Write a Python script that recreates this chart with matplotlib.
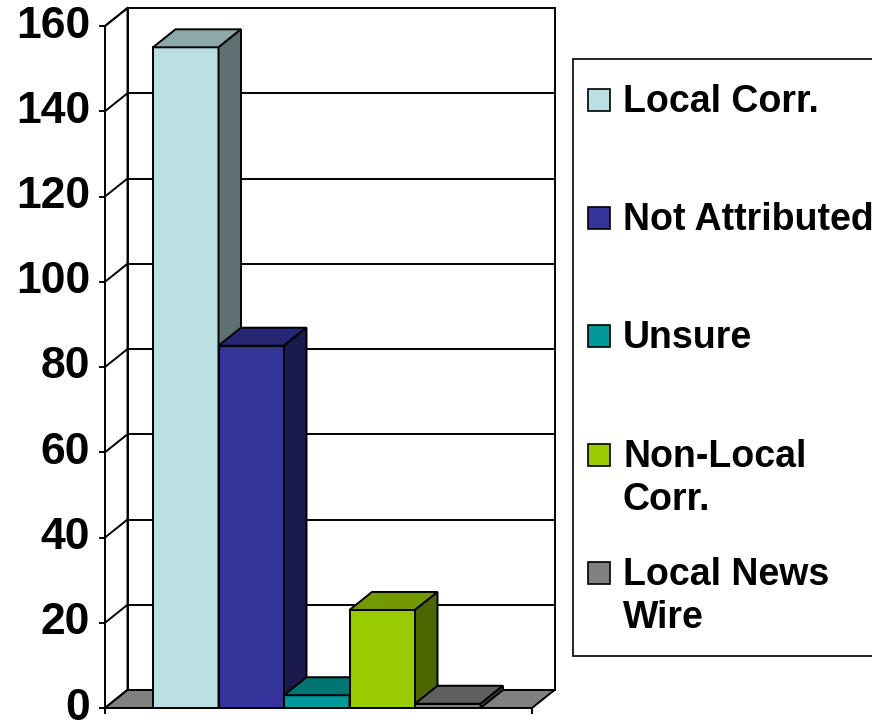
import matplotlib
matplotlib.use("Agg")
import matplotlib.pyplot as plt
from matplotlib.patches import Polygon, Rectangle
from matplotlib.colors import to_rgb

# --- data -------------------------------------------------------------
categories = ["Local Corr.", "Not Attributed", "Unsure", "Non-Local\nCorr.", "Local News\nWire"]
values = [155, 85, 3, 23, 1]
colors = ["#BBE0E3", "#333399", "#009999", "#99CC00", "#808080"]
y_ticks = [0, 20, 40, 60, 80, 100, 120, 140, 160]

# --- layout (pixels of the 872x725 canvas) ----------------------------
W, H = 872, 725
FONT = ["Liberation Sans", "DejaVu Sans"]

fig = plt.figure(figsize=(W / 100, H / 100), dpi=100)
ax = fig.add_axes([0, 0, 1, 1])
ax.set_axis_off()

# one x unit = one column width; y in data units
col_px = 65.5
first_col_px = 153.0
y0_px = 708.0
unit_px = (708.0 - 26.0) / 160.0

ax.set_xlim((0 - first_col_px) / col_px, (W - first_col_px) / col_px)
ax.set_ylim((y0_px - H) / unit_px, y0_px / unit_px)

x_left = (105 - first_col_px) / col_px
x_right = (532 - first_col_px) / col_px
dx = 22.5 / col_px          # depth offset in x
dy = 18.0 / unit_px         # depth offset in y
ymax = y_ticks[-1]
lw = 1.4


def shade(c, f):
    r, g, b = to_rgb(c)
    return (r * f, g * f, b * f)


def poly(pts, fc, z, ec="black", lw_=lw):
    ax.add_patch(Polygon(pts, closed=True, facecolor=fc, edgecolor=ec,
                         linewidth=lw_, joinstyle="miter", zorder=z))


# back wall and left wall
poly([(x_left + dx, dy), (x_right + dx, dy), (x_right + dx, ymax + dy),
      (x_left + dx, ymax + dy)], "white", 1)
poly([(x_left, 0), (x_left + dx, dy), (x_left + dx, ymax + dy), (x_left, ymax)],
     "white", 1)

for t in y_ticks[1:-1]:
    ax.plot([x_left + dx, x_right + dx], [t + dy, t + dy], color="black", lw=lw, zorder=2)
for t in y_ticks:
    ax.plot([x_left, x_left + dx], [t, t + dy], color="black", lw=lw, zorder=2)
    ax.plot([x_left - 5 / col_px, x_left], [t, t], color="black", lw=lw, zorder=2)
    ax.text(x_left - 15 / col_px, t, str(t), ha="right", va="center",
            fontsize=32, fontweight="bold", family=FONT, zorder=5)

# floor
poly([(x_left, 0), (x_right, 0), (x_right + dx, dy), (x_left + dx, dy)], "#808080", 3)
for xx in (x_left, x_right):
    ax.plot([xx, xx], [0, -5 / unit_px], color="black", lw=lw, zorder=3)

# 3-D columns spanning the full floor depth
for i, (v, c) in enumerate(zip(values, colors)):
    z = 10 + i
    x0, x1 = i, i + 1
    poly([(x0, 0), (x1, 0), (x1, v), (x0, v)], c, z)
    poly([(x0, v), (x1, v), (x1 + dx, v + dy), (x0 + dx, v + dy)], shade(c, 0.75), z)
    poly([(x1, 0), (x1 + dx, dy), (x1 + dx, v + dy), (x1, v)], shade(c, 0.5), z)

# legend
legend_box = Rectangle((573 / W, 1 - 656 / H), (W + 20 - 573) / W, (656 - 59) / H,
                       transform=fig.transFigure, facecolor="white",
                       edgecolor="black", linewidth=1.2, clip_on=False)
fig.add_artist(legend_box)
base0, step, line_h = 112.0, 118.25, 43.0
for i, (lab, c) in enumerate(zip(categories, colors)):
    b = base0 + i * step
    fig.add_artist(Rectangle((588 / W, 1 - (b - 1) / H), 22 / W, 22 / H,
                             transform=fig.transFigure, facecolor=c,
                             edgecolor="black", linewidth=1.2))
    for k, line in enumerate(lab.split("\n")):
        fig.text(623 / W, 1 - (b + k * line_h) / H, line, ha="left", va="baseline",
                 fontsize=27, fontweight="bold", family=FONT)

fig.savefig("out.png", dpi=100)
